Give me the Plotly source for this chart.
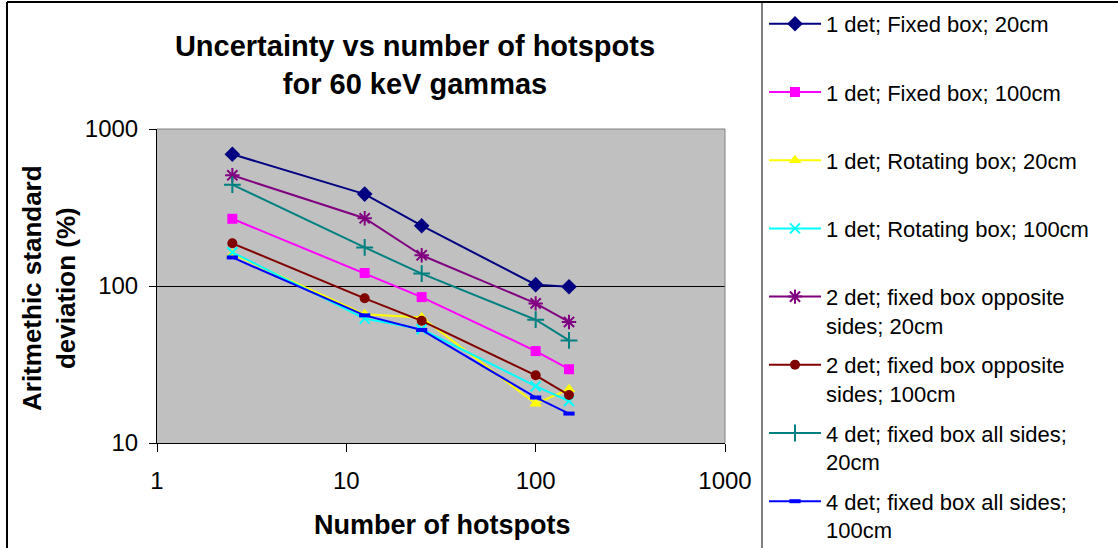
import plotly.graph_objects as go

# ---- data ----
hotspots = [2.5, 12.5, 25, 100, 150]
names = [
    "1 det; Fixed box; 20cm",
    "1 det; Fixed box; 100cm",
    "1 det; Rotating box; 20cm",
    "1 det; Rotating box; 100cm",
    "2 det; fixed box opposite<br>sides; 20cm",
    "2 det; fixed box opposite<br>sides; 100cm",
    "4 det; fixed box all sides;<br>20cm",
    "4 det; fixed box all sides;<br>100cm",
]
fixed20 = [690, 385, 242, 102, 99]
fixed100 = [268, 121, 85, 38.5, 29.5]
rot20 = [160, 66, 63, 17.8, 22]
rot100 = [164, 62, 53, 23, 18.5]
opp20 = [507, 270, 157, 77.5, 59]
opp100 = [187, 83.5, 60, 27, 20.2]
all20 = [442, 176, 120, 61, 45]
all100 = [152, 65, 52.5, 19.5, 15.4]
series = [fixed20, fixed100, rot20, rot100, opp20, opp100, all20, all100]
x_ticks = [1, 10, 100, 1000]
y_ticks = [10, 100, 1000]

# ---- styles ----
colors = ["#000080", "#FF00FF", "#FFFF00", "#00FFFF", "#800080", "#800000", "#008080", "#0000FF"]
symbols = ["diamond", "square", "triangle-up", "x-thin-open", "asterisk-open", "circle", "cross-thin-open", "line-ew-open"]
sizes = [12, 10, 11, 10, 12, 10, 12, 8]
mlw = [0, 0, 0, 2, 2, 0, 2, 4]

W, H = 1118, 548
L, R, T, B = 157, 725, 129, 443

def px_x(p):
    return p / W

def px_y(p):
    return 1 - p / H

fig = go.Figure()
for i, (nm, ys) in enumerate(zip(names, series)):
    label = nm if "<br>" in nm else nm + "<br>\u00a0"
    fig.add_trace(go.Scatter(
        x=hotspots, y=ys, name=label, mode="lines+markers",
        legendgroup=f"g{i}",
        line=dict(color=colors[i], width=2),
        marker=dict(symbol=symbols[i], size=sizes[i], color=colors[i],
                    line=dict(color=colors[i], width=mlw[i])),
    ))

font_reg = "Liberation Sans, Arial, sans-serif"

fig.update_layout(
    width=W, height=H,
    margin=dict(l=0, r=0, t=0, b=0, autoexpand=False),
    paper_bgcolor="white", plot_bgcolor="#C0C0C0",
    font=dict(family=font_reg, color="black"),
    showlegend=True,
    legend=dict(
        x=px_x(764), xanchor="left", y=px_y(3), yanchor="top",
        font=dict(size=22, family=font_reg, color="black"),
        valign="top", tracegroupgap=8, itemwidth=52,
        bgcolor="rgba(0,0,0,0)", borderwidth=0,
    ),
    title=dict(
        text="<b>Uncertainty vs number of hotspots<br>for 60 keV gammas</b>",
        x=px_x(415), xref="paper", xanchor="center",
        y=1 - 56 / H, yref="container", yanchor="middle",
        font=dict(size=29, family=font_reg, color="black"),
    ),
    xaxis=dict(
        domain=[L / W, R / W],
        type="log", range=[0, 3], tickvals=x_ticks, ticktext=[str(v) for v in x_ticks],
        showgrid=False, zeroline=False,
        showline=True, linecolor="black", linewidth=1,
        ticks="outside", ticklen=8, tickcolor="black", tickwidth=1,
        tickfont=dict(size=24, family=font_reg, color="black"),
        ticklabelstandoff=8,
    ),
    yaxis=dict(
        domain=[1 - B / H, 1 - T / H],
        type="log", range=[1, 3], tickvals=y_ticks, ticktext=[str(v) for v in y_ticks],
        showgrid=True, gridcolor="black", gridwidth=1, zeroline=False,
        showline=True, linecolor="black", linewidth=1,
        ticks="outside", ticklen=7, tickcolor="black", tickwidth=1,
        tickfont=dict(size=24, family=font_reg, color="black"),
        ticklabelstandoff=6,
    ),
    annotations=[
        dict(text="<b>Aritmethic standard<br>deviation (%)</b>", textangle=-90,
             xref="paper", yref="paper", x=px_x(49), y=px_y(288),
             xanchor="center", yanchor="middle", showarrow=False,
             font=dict(size=26, family=font_reg, color="black")),
        dict(text="<b>Number of hotspots</b>",
             xref="paper", yref="paper", x=px_x(442), y=px_y(525),
             xanchor="center", yanchor="middle", showarrow=False,
             font=dict(size=27, family=font_reg, color="black")),
    ],
    shapes=[
        # plot area top/right border
        dict(type="line", xref="x domain", yref="y domain", x0=0, x1=1, y0=1, y1=1,
             line=dict(color="#808080", width=1)),
        dict(type="line", xref="x domain", yref="y domain", x0=1, x1=1, y0=0, y1=1,
             line=dict(color="#808080", width=1)),
        # legend box left edge
        dict(type="line", xref="paper", yref="paper", x0=px_x(762), x1=px_x(762),
             y0=px_y(2), y1=px_y(H + 5), line=dict(color="#808080", width=2)),
        # outer chart border
        dict(type="line", xref="paper", yref="paper", x0=px_x(7), x1=px_x(7),
             y0=px_y(2), y1=px_y(H + 5), line=dict(color="black", width=2)),
        dict(type="line", xref="paper", yref="paper", x0=px_x(7), x1=px_x(W + 5),
             y0=px_y(2), y1=px_y(2), line=dict(color="black", width=2)),
    ],
)

fig.write_html("out.html")
